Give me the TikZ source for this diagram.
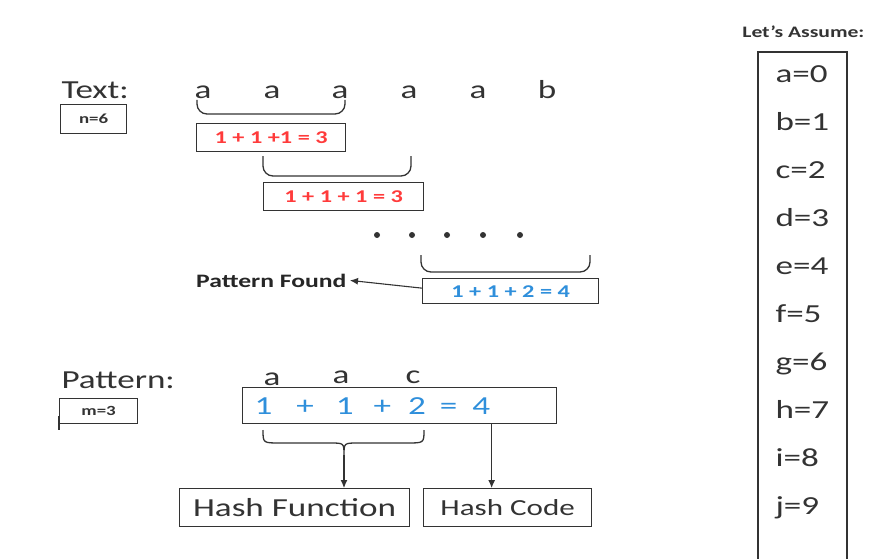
\documentclass[tikz,border=0pt]{standalone}
\usepackage{fontspec}
\setmainfont[FakeStretch=1.35]{Carlito}
\usetikzlibrary{positioning,arrows.meta}
\definecolor{ink}{HTML}{333333}
\definecolor{sumred}{HTML}{FF3B3B}
\definecolor{sumblue}{HTML}{2F8FDB}
\tikzset{
  box/.style={draw=ink,line width=1.3pt,inner sep=0pt},
  big/.style={font=\fontsize{26}{30}\selectfont,text=ink},
  small/.style={font=\bfseries\fontsize{14}{16}\selectfont,text=ink},
  redsum/.style={font=\bfseries\fontsize{18}{20}\selectfont,text=sumred},
  bluesum/.style={font=\bfseries\fontsize{18}{20}\selectfont,text=sumblue},
  lid/.style={draw=ink,line width=1.3pt,rounded corners=10pt},
  link/.style={draw=ink,line width=1.1pt,-{Latex[length=8pt,width=7pt]}}
}
\begin{document}
\begin{tikzpicture}[x=1pt,y=-1pt]
  \useasboundingbox (0,0) rectangle (872,559);
  %% text row
  \node[big,anchor=base west] (txt) at (58,99) {Text:};
  \node[box,small,anchor=north west,minimum width=66,minimum height=29] (n) at (60,104) {n=6};
  \foreach \x/\c [count=\i] in {203/a,272/a,340/a,409/a,478/a,547/b}
    \node[big,anchor=base] (t\i) at (\x,99) {\c};
  %% windows
  \draw[lid] (197,100) -- (197,114) -- (345,114) -- (345,100);
  \node[box,redsum,anchor=north west,minimum width=149,minimum height=28] (s1) at (196,123) {1 + 1 +1 = 3};
  \draw[lid] (263,156) -- (263,176) -- (411,176) -- (411,156);
  \node[box,redsum,anchor=north west,minimum width=160,minimum height=28] (s2) at (263,182) {1 + 1 + 1 = 3};
  \foreach \x in {377,412,447,483,520} \fill[ink] (\x,235) circle (3pt);
  \draw[lid] (421,255) -- (421,272) -- (590,272) -- (590,255);
  \node[box,bluesum,anchor=north west,minimum width=176,minimum height=25] (s3) at (422,278) {1 + 1 + 2 = 4};
  \node[font=\bfseries\fontsize{19}{22}\selectfont,text=black!85,anchor=base east] (found) at (350,287) {Pattern Found};
  \draw[link] ([yshift=3pt]s3.west) -- (found.east);
  %% pattern
  \node[big,anchor=base west] (pat) at (58,388) {Pattern:};
  \node[box,small,anchor=north west,minimum width=78,minimum height=25] (m) at (59,398) {m=3};
  \draw[ink,line width=2pt] ([yshift=8pt]m.south west) -- ++(0,14);
  \foreach \x/\y/\c [count=\i] in {272/385/a,341/383/a,413/383/c}
    \node[big,anchor=base] (p\i) at (\x,\y) {\c};
  \node[box,big,text=sumblue,anchor=north west,text width=290pt,inner xsep=12pt,align=left,minimum height=36] (pbox) at (242,387)
    {1\hspace{24pt}+\hspace{22pt}1\hspace{20pt}+\hspace{17pt}2\hspace{14pt}=\hspace{15pt}4};
  \draw[ink,line width=1.3pt] (263,430) .. controls (263,443) .. (280,443) -- (330,443) .. controls (344,443) .. (344,455)
    (424,430) .. controls (424,443) .. (407,443) -- (358,443) .. controls (344,443) .. (344,455);
  \coordinate (tip) at (344,455);
  \path (pbox.south) ++(92,0) coordinate (hc);
  \node[box,big,anchor=north west,minimum width=230,minimum height=38] (hf) at (179,488) {Hash Function};
  \node[box,big,font=\fontsize{23}{26}\selectfont,anchor=north west,minimum width=168,minimum height=38] (hcode) at (423,488) {Hash Code};
  \draw[link] (tip) -- (tip |- hf.north);
  \draw[link] (hc) -- (hc |- hcode.north);
  %% values
  \node[font=\bfseries\fontsize{16}{18}\selectfont,text=ink,anchor=base east] (assume) at (868,38) {Let’s Assume:};
  \draw[ink,line width=1.3pt] (758,559) -- (758,52) -- (847,52) -- (847,559);
  \foreach \c [count=\i from 0] in {a,b,c,d,e,f,g,h,i,j}
    \node[big,anchor=base west] (v\i) at (772,{83+47.9*\i}) {\c=\i};
\end{tikzpicture}
\end{document}
